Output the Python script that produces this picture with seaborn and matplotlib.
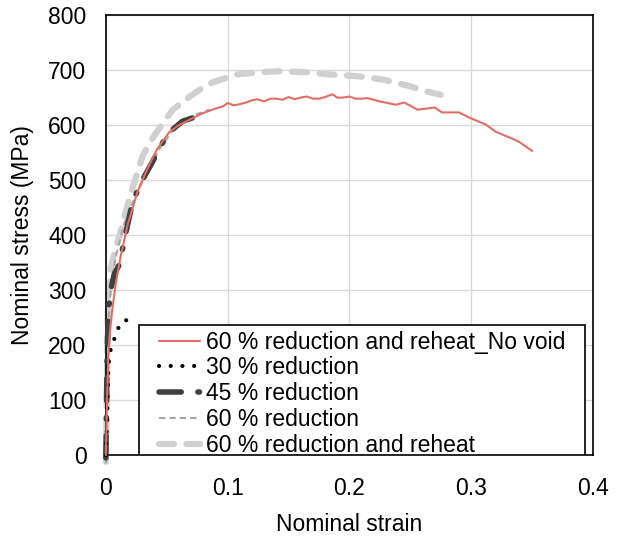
import matplotlib
matplotlib.use('Agg')
import matplotlib.pyplot as plt
from matplotlib.patches import Rectangle
import seaborn as sns
import pandas as pd

# 60 % reduction and reheat_No void
red_strain = [0, 0.001, 0.002, 0.003, 0.005, 0.008, 0.012, 0.018, 0.026, 0.034, 0.042, 0.052,
              0.06, 0.069, 0.08, 0.09, 0.096, 0.1, 0.105, 0.11, 0.115, 0.12, 0.124, 0.13, 0.135,
              0.14, 0.145, 0.15, 0.155, 0.16, 0.165, 0.17, 0.175, 0.18, 0.186, 0.19, 0.195, 0.2,
              0.205, 0.21, 0.215, 0.225, 0.238, 0.245, 0.256, 0.27, 0.276, 0.29, 0.298, 0.312,
              0.32, 0.334, 0.339, 0.35]
red_stress = [0, 100, 180, 215, 260, 310, 360, 420, 479, 520, 556, 587,
              600, 610, 622, 630, 634, 640, 636, 638, 641, 645, 647, 643, 648,
              648, 646, 651, 647, 650, 652, 648, 648, 651, 656, 650, 650, 652,
              648, 648, 649, 643, 637, 641, 628, 632, 623, 623, 614, 601,
              588, 575, 570, 553]

# 30 % reduction
r30_strain = [0, 0.0005, 0.001, 0.0015, 0.002, 0.003, 0.005, 0.007, 0.009, 0.011, 0.013, 0.016, 0.020]
r30_stress = [0, 30, 58, 110, 150, 186, 197, 212, 224, 235, 242, 245, 246]

# 45 % reduction
r45_strain = [0, 0.0005, 0.001, 0.002, 0.004, 0.007, 0.011, 0.016, 0.022, 0.03, 0.038, 0.045,
              0.052, 0.063, 0.075]
r45_stress = [-5, 80, 180, 260, 300, 330, 346, 400, 461, 500, 532, 562, 587, 607, 616]

# 60 % reduction
r60_strain = [0, 0.0005, 0.001, 0.003, 0.008, 0.015, 0.025, 0.035, 0.045, 0.055, 0.065, 0.075, 0.085]
r60_stress = [-15, 100, 200, 280, 360, 420, 475, 520, 560, 590, 608, 620, 628]

# 60 % reduction and reheat
rh_strain = [0, 0.0005, 0.001, 0.0015, 0.002, 0.004, 0.008, 0.012, 0.016, 0.021, 0.030, 0.038,
             0.046, 0.055, 0.069, 0.078, 0.088, 0.107, 0.125, 0.143, 0.165, 0.184, 0.206, 0.227,
             0.249, 0.262, 0.275]
rh_stress = [-12, 50, 150, 250, 300, 340, 375, 405, 440, 479, 543, 575,
             601, 628, 652, 666, 678, 692, 696, 698, 696, 692, 689, 683,
             671, 662, 655]

x_ticks = [0, 0.1, 0.2, 0.3, 0.4]
x_labels = ['0', '0.1', '0.2', '0.3', '0.4']
y_ticks = [0, 100, 200, 300, 400, 500, 600, 700, 800]

sns.set_style('whitegrid')
plt.rcParams['font.family'] = ['Liberation Sans', 'DejaVu Sans']
plt.rcParams['text.color'] = 'black'
plt.rcParams['axes.labelcolor'] = 'black'
plt.rcParams['xtick.color'] = 'black'
plt.rcParams['ytick.color'] = 'black'

FS = 16.5

fig = plt.figure(figsize=(6.19, 5.38), dpi=100)
ax = fig.add_axes([0.171, 0.154, 0.787, 0.818])

series = [
    ('60 % reduction and reheat', rh_strain, rh_stress,
     dict(color='#D0D0D0', lw=4.5, dashes=(2.4, 2.0), dash_capstyle='round'), 1),
    ('60 % reduction', r60_strain, r60_stress,
     dict(color='#A6A6A6', lw=1.5, dashes=(3, 2)), 2),
    ('45 % reduction', r45_strain, r45_stress,
     dict(color='#404040', lw=4, dashes=(4, 3, 0.3, 3), dash_capstyle='round'), 3),
    ('30 % reduction', r30_strain, r30_stress,
     dict(color='black', lw=3, dashes=(0.01, 2.8), dash_capstyle='round'), 4),
    ('60 % reduction and reheat_No void', red_strain, red_stress,
     dict(color='#E06E66', lw=1.5), 5),
]

handles = {}
for label, xs, ys, style, z in series:
    df = pd.DataFrame({'strain': xs, 'stress': ys})
    sns.lineplot(data=df, x='strain', y='stress', sort=False, ax=ax, label=label,
                 zorder=z, **style)
    handles[label] = ax.get_lines()[-1]
    handles[label].set_clip_on(False)

# legend box drawn separately so the entries can sit inset from its left edge
box = Rectangle((0.068, 0.0), 0.916, 0.296, transform=ax.transAxes,
                facecolor='white', edgecolor='black', lw=1.2, zorder=9)
ax.add_patch(box)

order = ['60 % reduction and reheat_No void', '30 % reduction', '45 % reduction',
         '60 % reduction', '60 % reduction and reheat']
leg = ax.legend([handles[k] for k in order], order, loc='upper left',
                bbox_to_anchor=(0.109, 0.283), borderaxespad=0, borderpad=0,
                fontsize=FS, frameon=False, handlelength=1.8, handletextpad=0.25,
                labelspacing=0.12)
leg.set_zorder(10)

ax.set_xlim(0, 0.4)
ax.set_ylim(0, 800)
ax.set_xticks(x_ticks)
ax.set_xticklabels(x_labels)
ax.set_yticks(y_ticks)
ax.tick_params(axis='y', labelsize=FS, pad=14, length=0)
ax.tick_params(axis='x', labelsize=FS, pad=16, length=0)
ax.grid(color='#D9D9D9', lw=1)
for s in ax.spines.values():
    s.set_color('black')
    s.set_linewidth(1.2)
ax.set_xlabel('Nominal strain', fontsize=FS, labelpad=9)
ax.set_ylabel('Nominal stress (MPa)', fontsize=FS, labelpad=10)

fig.savefig('out.png', dpi=100, facecolor='white')
